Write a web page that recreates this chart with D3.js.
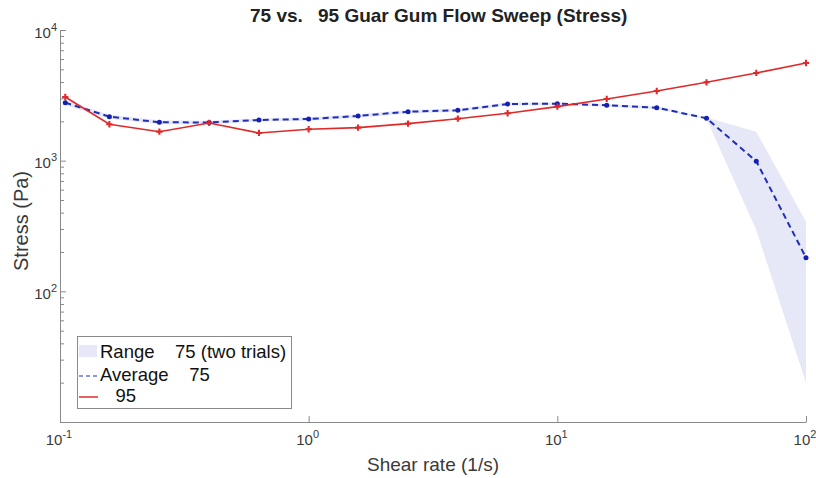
<!DOCTYPE html>
<html>
<meta charset="utf-8">
<head>
<title>guar gum flow sweep</title>
<script src="https://d3js.org/d3.v7.min.js"></script>
<style>
  body { margin: 0; background: #fff; }
  text { font-family: "Liberation Sans", Arial, sans-serif; }
</style>
</head>
<body>
<div id="plot"></div>
<script>

// shear rates (1/s)
var shearRate = [0.105, 0.158, 0.251, 0.398, 0.631, 1, 1.58, 2.51, 3.98, 6.31, 10, 15.8, 25.1, 39.8, 63.1, 100];

// 95 sample stress (Pa)
var stress95 = [3070, 1900, 1667, 1943, 1630, 1740, 1790, 1920, 2096, 2306, 2590, 2966, 3414, 3980, 4690, 5590];

// 75 sample, average of two trials (Pa)
var stress75avg = [2780, 2171, 1967, 1960, 2048, 2084, 2198, 2371, 2430, 2716, 2730, 2654, 2544, 2110, 990, 181];

// 75 sample, range of two trials
var stress75min = [2660, 2090, 1900, 1900, 1990, 2020, 2130, 2300, 2360, 2640, 2660, 2590, 2480, 2080, 295, 20];
var stress75max = [2900, 2250, 2035, 2020, 2105, 2150, 2265, 2440, 2500, 2790, 2800, 2720, 2610, 2140, 1667, 341];

var xTicks = [0.1, 1, 10, 100];
var yTicks = [10, 100, 1000, 10000];

var width = 816, height = 478;
var plotLeft = 60, plotRight = 806, plotTop = 30, plotBottom = 422;

var svg = d3.select("#plot").append("svg")
  .attr("width", width)
  .attr("height", height);

var x = d3.scaleLog().domain([0.1, 100]).range([plotLeft, plotRight]);
var y = d3.scaleLog().domain([10, 10000]).range([plotBottom, plotTop]);

var axisColor = "#8a8a8a";
var labelColor = "#3a3a3a";

// range band
var band = d3.area()
  .x(function(d, i){ return x(shearRate[i]); })
  .y0(function(d, i){ return y(stress75min[i]); })
  .y1(function(d, i){ return y(stress75max[i]); });

svg.append("path")
  .datum(shearRate)
  .attr("d", band)
  .attr("fill", "#e6e7f7")
  .attr("stroke", "none");

// axes
var xAxis = d3.axisBottom(x).tickValues(xTicks).tickFormat("").tickSizeInner(-6).tickSizeOuter(0);
var gx = svg.append("g")
  .attr("transform", "translate(0," + plotBottom + ")")
  .call(xAxis);
gx.selectAll("path, line").attr("stroke", axisColor);

var minorY = [];
[10, 100, 1000].forEach(function(d){
  for (var k = 2; k <= 9; k++) minorY.push(d * k);
});

var yAxis = d3.axisLeft(y).tickValues(yTicks).tickFormat("").tickSizeInner(-6).tickSizeOuter(0);
var gy = svg.append("g")
  .attr("transform", "translate(" + plotLeft + ",0)")
  .call(yAxis);
gy.selectAll("path, line").attr("stroke", axisColor);

var yMinor = d3.axisLeft(y).tickValues(minorY).tickFormat("").tickSizeInner(-4).tickSizeOuter(0);
var gym = svg.append("g")
  .attr("transform", "translate(" + plotLeft + ",0)")
  .call(yMinor);
gym.select(".domain").remove();
gym.selectAll("line").attr("stroke", axisColor);

// power-of-ten tick labels
function powLabel(g, val) {
  var e = Math.round(Math.log10(val));
  g.append("tspan").text("10");
  g.append("tspan").attr("dy", -7).attr("font-size", 11).text(e);
}

xTicks.forEach(function(d){
  var t = svg.append("text")
    .attr("x", x(d) - 1)
    .attr("y", 445)
    .attr("text-anchor", "middle")
    .attr("font-size", 15)
    .attr("fill", labelColor);
  powLabel(t, d);
});

yTicks.forEach(function(d){
  if (d === 10) return;
  var t = svg.append("text")
    .attr("x", 57)
    .attr("y", y(d) + 7.5)
    .attr("text-anchor", "end")
    .attr("font-size", 15)
    .attr("fill", labelColor);
  powLabel(t, d);
});

// lines
var line = d3.line()
  .x(function(d, i){ return x(shearRate[i]); })
  .y(function(d){ return y(d); });

svg.append("path")
  .datum(stress75avg)
  .attr("d", line)
  .attr("fill", "none")
  .attr("stroke", "#1f2fb8")
  .attr("stroke-width", 2)
  .attr("stroke-dasharray", "6,4");

svg.selectAll(".dot75")
  .data(stress75avg)
  .enter()
  .append("circle")
  .attr("class", "dot75")
  .attr("cx", function(d, i){ return x(shearRate[i]); })
  .attr("cy", function(d){ return y(d); })
  .attr("r", 2.5)
  .attr("fill", "#1420b0");

svg.append("path")
  .datum(stress95)
  .attr("d", line)
  .attr("fill", "none")
  .attr("stroke", "#e02a2a")
  .attr("stroke-width", 1.6);

svg.selectAll(".dot95")
  .data(stress95)
  .enter()
  .append("path")
  .attr("class", "dot95")
  .attr("d", d3.symbol().type(d3.symbolCross).size(22))
  .attr("transform", function(d, i){ return "translate(" + x(shearRate[i]) + "," + y(d) + ")"; })
  .attr("fill", "#e02a2a");

// title and axis labels
var title = svg.append("text")
  .attr("y", 22)
  .attr("font-size", 19)
  .attr("font-weight", "bold")
  .attr("fill", "#222");
title.append("tspan").attr("x", 250).text("75 vs.");
title.append("tspan").attr("x", 318).text("95 Guar Gum Flow Sweep (Stress)");

svg.append("text")
  .attr("x", 433)
  .attr("y", 471)
  .attr("text-anchor", "middle")
  .attr("font-size", 19)
  .attr("fill", labelColor)
  .text("Shear rate (1/s)");

svg.append("text")
  .attr("transform", "translate(28,221) rotate(-90)")
  .attr("text-anchor", "middle")
  .attr("font-size", 20)
  .attr("fill", labelColor)
  .text("Stress (Pa)");

// legend
var legend = svg.append("g");
legend.append("rect")
  .attr("x", 77.5).attr("y", 336.5)
  .attr("width", 214).attr("height", 72)
  .attr("fill", "#fff")
  .attr("stroke", "#8a8a8a");

legend.append("rect")
  .attr("x", 79).attr("y", 345)
  .attr("width", 18).attr("height", 12)
  .attr("fill", "#e6e7f7");
legend.append("line")
  .attr("x1", 79).attr("x2", 98).attr("y1", 376).attr("y2", 376)
  .attr("stroke", "#1f2fb8").attr("stroke-width", 1.2).attr("stroke-dasharray", "4,3");
legend.append("line")
  .attr("x1", 79).attr("x2", 98).attr("y1", 397).attr("y2", 397)
  .attr("stroke", "#e02a2a").attr("stroke-width", 1.5);

var legendLabels = ["Range    75 (two trials)", "Average    75", "   95"];
var legendY = [358, 381, 402];
legend.selectAll(".lab")
  .data(legendLabels)
  .enter()
  .append("text")
  .attr("class", "lab")
  .attr("x", 100)
  .attr("y", function(d, i){ return legendY[i]; })
  .attr("font-size", 18.5)
  .attr("fill", "#111")
  .style("white-space", "pre")
  .text(function(d){ return d; });

</script>
</body>
</html>
